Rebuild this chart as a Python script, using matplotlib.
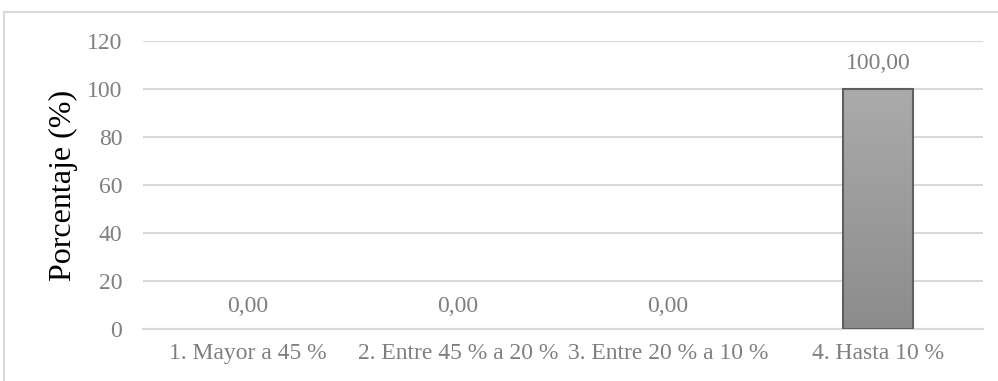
import numpy as np
import matplotlib.pyplot as plt
from matplotlib.patches import Rectangle
from matplotlib.colors import LinearSegmentedColormap

categorias = ["1. Mayor a 45 %", "2. Entre 45 % a 20 %", "3. Entre 20 % a 10 %", "4. Hasta 10 %"]
porcentajes = [0.0, 0.0, 0.0, 100.0]
ticks_y = [0, 20, 40, 60, 80, 100, 120]

plt.rcParams['font.family'] = ['Liberation Serif', 'DejaVu Serif']

fig = plt.figure(figsize=(9.98, 3.81), dpi=100)
ax = fig.add_axes([143 / 998, 1 - 329 / 381, 840 / 998, 288 / 381])

x = np.arange(len(categorias))
bars = ax.bar(x, porcentajes, width=0.333, color="#9c9c9c", linewidth=0, zorder=3)

# degradado vertical dentro de cada barra (claro arriba, oscuro abajo)
cmap = LinearSegmentedColormap.from_list("gris", ["#8c8c8c", "#ababab"])
grad = np.linspace(0, 1, 256).reshape(-1, 1)
for b in bars:
    if b.get_height() <= 0:
        continue
    x0, w, h = b.get_x(), b.get_width(), b.get_height()
    im = ax.imshow(grad, cmap=cmap, aspect="auto",
                   extent=[x0, x0 + w, 0, h], origin="lower", zorder=3.5)
    im.set_clip_path(b)
    ax.add_patch(Rectangle((x0, 0), w, h, fill=False, edgecolor="#5f5f5f", linewidth=1.5, zorder=4))

for xi, v in zip(x, porcentajes):
    ax.text(xi, v + 10.5 if v > 0 else v + 9.5, f"{v:.2f}".replace(".", ","), ha="center", va="center",
            fontsize=17, color="#7f7f7f", zorder=5)

ax.set_xlim(-0.5, len(categorias) - 0.5)
ax.set_ylim(0, 120)
ax.set_yticks(ticks_y)
ax.set_xticks(x)
ax.set_xticklabels(categorias)
ax.tick_params(axis="both", length=0, labelsize=17, labelcolor="#7f7f7f")
ax.tick_params(axis="y", pad=15)
ax.tick_params(axis="x", pad=10)
ax.grid(axis="y", color="#d9d9d9", linewidth=1.5, zorder=0)
ax.set_axisbelow(True)
for s in ["top", "right", "left"]:
    ax.spines[s].set_visible(False)
ax.spines["bottom"].set_color("#d9d9d9")
ax.spines["bottom"].set_linewidth(1.5)

ax.set_ylabel("Porcentaje (%)", fontsize=23, color="black")
ax.yaxis.set_label_coords(-0.077, 0.5)

# marco del grafico (recortado a la derecha y abajo)
fig.patches.append(Rectangle((4 / 998, -0.2), 1.2, 1 - 12 / 381 + 0.2, transform=fig.transFigure,
                             fill=False, edgecolor="#d9d9d9", linewidth=1.5))

fig.savefig("out.png", dpi=100)
